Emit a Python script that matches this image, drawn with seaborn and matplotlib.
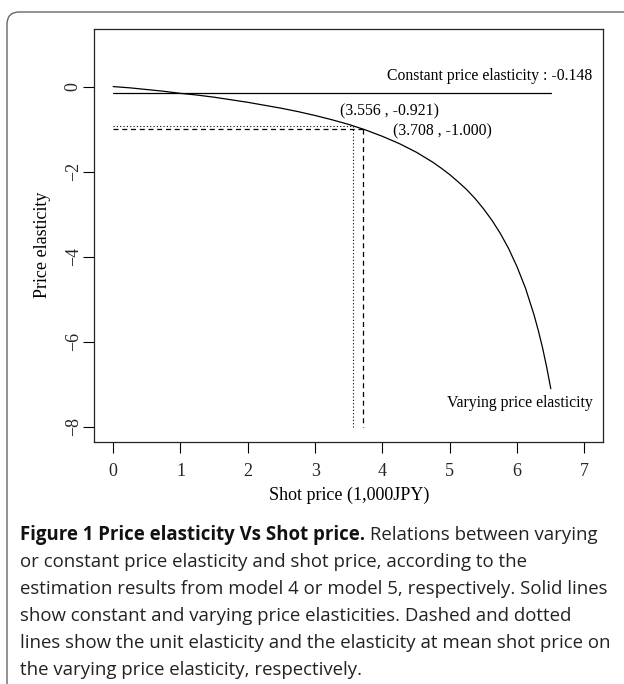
import matplotlib
matplotlib.use("Agg")
import matplotlib.pyplot as plt
from matplotlib.patches import FancyBboxPatch
import seaborn as sns
import pandas as pd

# ---- data ----
shot_price = [0, 0.25, 0.5, 0.75, 1.0, 1.25, 1.5, 1.75, 2.0, 2.25, 2.5, 2.75, 3.0,
              3.25, 3.5, 3.75, 4.0, 4.25, 4.5, 4.75, 4.875, 5.0, 5.125, 5.25, 5.375,
              5.5, 5.625, 5.75, 5.875, 6.0, 6.125, 6.25, 6.3125, 6.375, 6.4375, 6.5]
varying_elasticity = [0, -0.03, -0.07, -0.11, -0.16, -0.20, -0.25, -0.31, -0.37, -0.44,
                      -0.51, -0.59, -0.68, -0.78, -0.89, -1.02, -1.17, -1.34, -1.54,
                      -1.78, -1.92, -2.07, -2.24, -2.42, -2.63, -2.87, -3.14, -3.45,
                      -3.81, -4.24, -4.74, -5.36, -5.72, -6.12, -6.58, -7.10]
constant_x = [0, 6.5]
constant_elasticity = [-0.148, -0.148]
mean_point = (3.556, -0.921)
unit_point = (3.708, -1.000)
y_floor = -8
x_ticks = [0, 1, 2, 3, 4, 5, 6, 7]
y_ticks = [0, -2, -4, -6, -8]

caption_bold = "Figure 1 Price elasticity Vs Shot price."
caption_lines = [
    " Relations between varying",
    "or constant price elasticity and shot price, according to the",
    "estimation results from model 4 or model 5, respectively. Solid lines",
    "show constant and varying price elasticities. Dashed and dotted",
    "lines show the unit elasticity and the elasticity at mean shot price on",
    "the varying price elasticity, respectively.",
]

sns.set_theme(style="white")
serif = ["Liberation Serif", "DejaVu Serif"]
sans = ["Open Sans", "DejaVu Sans"]

fig = plt.figure(figsize=(6.24, 6.84), dpi=100)
ax = fig.add_axes([94.3 / 624, 1 - 442.3 / 684, (603.3 - 94.3) / 624, (442.3 - 28.7) / 684])

df_var = pd.DataFrame({"price": shot_price, "elasticity": varying_elasticity})
df_con = pd.DataFrame({"price": constant_x, "elasticity": constant_elasticity})
sns.lineplot(data=df_var, x="price", y="elasticity", ax=ax, color="black", lw=0.9,
             estimator=None, sort=False)
sns.lineplot(data=df_con, x="price", y="elasticity", ax=ax, color="black", lw=0.9,
             estimator=None, sort=False)

# reference lines
ax.plot([0, mean_point[0]], [mean_point[1], mean_point[1]], color="black", lw=0.8, ls=(0, (1, 2)))
ax.plot([mean_point[0], mean_point[0]], [mean_point[1], y_floor], color="black", lw=0.8, ls=(0, (1, 2)))
ax.plot([0, unit_point[0]], [unit_point[1], unit_point[1]], color="black", lw=0.9, ls=(0, (4, 3)))
ax.plot([unit_point[0], unit_point[0]], [unit_point[1], y_floor], color="black", lw=0.9, ls=(0, (4, 3)))

# annotations
ax.text(7.11, 0.25, "Constant price elasticity : -0.148", ha="right", va="center",
        family=serif, fontsize=11.3, color="black")
ax.text(3.37, -0.575, "(%.3f , %.3f)" % mean_point, ha="left", va="center",
        family=serif, fontsize=11.3, color="black")
ax.text(4.16, -1.05, "(%.3f , %.3f)" % unit_point, ha="left", va="center",
        family=serif, fontsize=11.3, color="black")
ax.text(7.13, -7.44, "Varying price elasticity", ha="right", va="center",
        family=serif, fontsize=11.3, color="black")

ax.set_xlim(-0.28, 7.28)
ax.set_ylim(-8.36, 1.36)
ax.set_xticks(x_ticks)
ax.set_yticks(y_ticks)
ax.set_xticklabels([str(t) for t in x_ticks], family=serif, fontsize=13)
ax.set_yticklabels(["\u2212%d" % -t if t < 0 else str(t) for t in y_ticks], family=serif,
                   fontsize=13, rotation=90, va="center")
ax.tick_params(axis="both", direction="out", length=8, width=0.8, color="black",
               left=True, bottom=True)
ax.tick_params(axis="x", pad=7)
ax.tick_params(axis="y", pad=1)
ax.set_xlabel("Shot price (1,000JPY)", family=serif, fontsize=13, labelpad=5, color="black")
ax.set_ylabel("Price elasticity", family=serif, fontsize=13, color="black")
ax.yaxis.set_label_coords((51 - 94.3) / 509, (442.3 - 245) / 413.6)
for s in ax.spines.values():
    s.set_color("#222222")
    s.set_linewidth(0.9)
    s.set_visible(True)

# outer panel border (only top/left visible in the crop)
border = FancyBboxPatch((7 / 624, -0.05), 1.2, 1 - 12 / 684 + 0.05,
                        boxstyle="round,pad=0,rounding_size=0.02",
                        transform=fig.transFigure, fill=False, ec="#666666", lw=1.0,
                        mutation_aspect=624 / 684)
fig.patches.append(border)

# caption
y0 = 1 - 535 / 684
step = 27 / 684
fs = 13.4
t = fig.text(20 / 624, y0, caption_bold, family=sans, fontsize=fs, weight="bold",
             va="center", ha="left", color="#111111")
fig.canvas.draw()
bb = t.get_window_extent()
fig.text(bb.x1 / 624, y0, caption_lines[0], family=sans, fontsize=fs,
         va="center", ha="left", color="#222222")
for i, line in enumerate(caption_lines[1:], start=1):
    fig.text(20 / 624, y0 - i * step, line, family=sans, fontsize=fs,
             va="center", ha="left", color="#222222")

fig.savefig("out.png", dpi=100)
